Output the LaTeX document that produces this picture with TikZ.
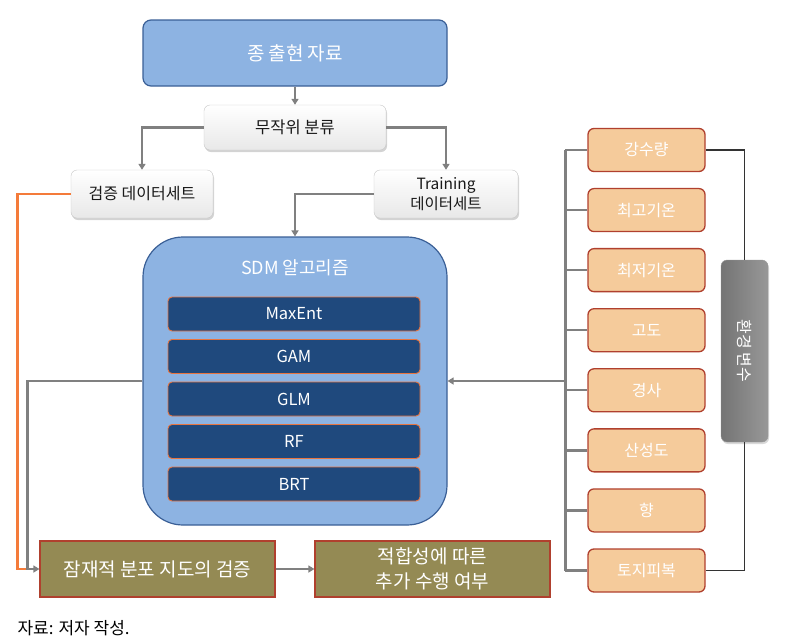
\documentclass[tikz,border=0pt]{standalone}
\usepackage{fontspec}
\setmainfont{Noto Sans CJK KR}
\usepackage{tikz}
\usetikzlibrary{positioning, calc, arrows.meta, shadows}
\definecolor{skyfill}{HTML}{8DB3E2}
\definecolor{skyline}{HTML}{3A5F96}
\definecolor{navyfill}{HTML}{1F497D}
\definecolor{algline}{HTML}{E8743F}
\definecolor{peachfill}{HTML}{F5CB9B}
\definecolor{redline}{HTML}{B0402E}
\definecolor{olivefill}{HTML}{948A54}
\definecolor{connGray}{HTML}{808080}
\definecolor{validLine}{HTML}{F47B3A}
\definecolor{varLeft}{HTML}{747474}
\definecolor{varRight}{HTML}{989898}

\begin{document}
\begin{tikzpicture}[x=1pt, y=-1pt, >={Triangle[length=6pt, width=7pt]},
	conn/.style={draw=connGray, line width=2.4pt},
	bluebox/.style={draw=skyline, fill=skyfill, line width=1.2pt, text=white},
	whitebox/.style={draw=black!22, top color=white, bottom color=black!9, rounded corners=6pt,
		drop shadow={opacity=0.35, shadow xshift=1pt, shadow yshift=-2pt}, text=black!90,
		font=\fontsize{16}{20}\selectfont, align=center},
	algbox/.style={draw=algline, fill=navyfill, line width=0.9pt, rounded corners=4pt, text=white,
		minimum width=252, minimum height=34, font=\fontsize{16.5}{18}\selectfont},
	envbox/.style={draw=redline, fill=peachfill, line width=1.3pt, rounded corners=6pt, text=white,
		minimum width=117, minimum height=43, font=\fontsize{16}{18}\selectfont},
	olivebox/.style={draw=redline, fill=olivefill, line width=1.2pt, text=white,
		minimum width=235, minimum height=56, font=\fontsize{19}{25}\selectfont, align=center}]
\useasboundingbox (0,0) rectangle (792,641);
\node[bluebox, rounded corners=8pt, minimum width=304, minimum height=66,
	font=\fontsize{19}{20}\selectfont] (top) at (295,53) {종 출현 자료};
\node[whitebox, minimum width=182, minimum height=45, font=\fontsize{16.5}{18}\selectfont] (rand) at (295,127.5) {무작위 분류};
\node[whitebox, minimum width=142, minimum height=48] (valid) at (142,194) {검증 데이터세트};
\node[whitebox, minimum width=144, minimum height=48, font=\fontsize{15.5}{20}\selectfont] (train) at (446,194) {Training\\데이터세트};
\node[bluebox, rounded corners=40pt, minimum width=304, minimum height=288] (sdm) at (295,381) {};
\node[text=white, font=\fontsize{18}{20}\selectfont] (sdmtitle) at (295,268) {SDM 알고리즘};
\foreach \alg [count=\i] in {MaxEnt, GAM, GLM, RF, BRT}
	\node[algbox] (alg\i) at (294, {314 + 42.5*(\i-1)}) {\alg};
\foreach \ev [count=\i] in {강수량, 최고기온, 최저기온, 고도, 경사, 산성도, 향, 토지피복}
	\node[envbox] (env\i) at (646.5, {150 + 60.07*(\i-1)}) {\ev};
\node[draw=black!40, left color=varLeft, right color=varRight, rounded corners=6pt,
	minimum width=47, minimum height=182, drop shadow={opacity=0.3, shadow xshift=1pt, shadow yshift=-2pt}] (envvar) at (744.5,351) {};
\node[rotate=-90, text=white, font=\fontsize{16}{18}\selectfont] (envvarlabel) at (envvar.center) {환경 변수};
\node[olivebox] (pot) at (157.5,569) {잠재적 분포 지도의 검증};
\node[olivebox] (fit) at (432.5,569) {적합성에 따른\\추가 수행 여부};
\node[anchor=west, text=black, font=\fontsize{17}{18}\selectfont] (src) at (14,628) {자료: 저자 작성.};
\coordinate (busa) at ($(env1.west)+(-22,0)$);
\coordinate (busb) at ($(env8.west)+(-22,0)$);
\draw[conn, ->] (top.south) -- (rand.north);
\draw[conn, ->] (rand.west) -| (valid.north);
\draw[conn, ->] (rand.east) -| (train.north);
\draw[conn, ->] (train.west) -| (sdm.north);
\draw[draw=validLine, line width=2.2pt] (valid.west) -| ($(pot.west)+(-22,0)$) -- ($(pot.west)+(-8,0)$);
\draw[conn, ->] (sdm.west) -| ($(pot.west)+(-12,0)$) -- (pot.west);
\draw[conn, ->] (pot.east) -- (fit.west);
\draw[conn] (busa) -- (busb);
\foreach \i in {1,...,8}
	\draw[conn] (env\i.west) -- (busa |- env\i.west);
\draw[conn, ->] (sdm.east -| busa) -- (sdm.east);
\draw[black!80, line width=1.3pt] (env1.east) -| (envvar.north);
\draw[black!80, line width=1.3pt] (env8.east) -| (envvar.south);
\end{tikzpicture}
\end{document}
